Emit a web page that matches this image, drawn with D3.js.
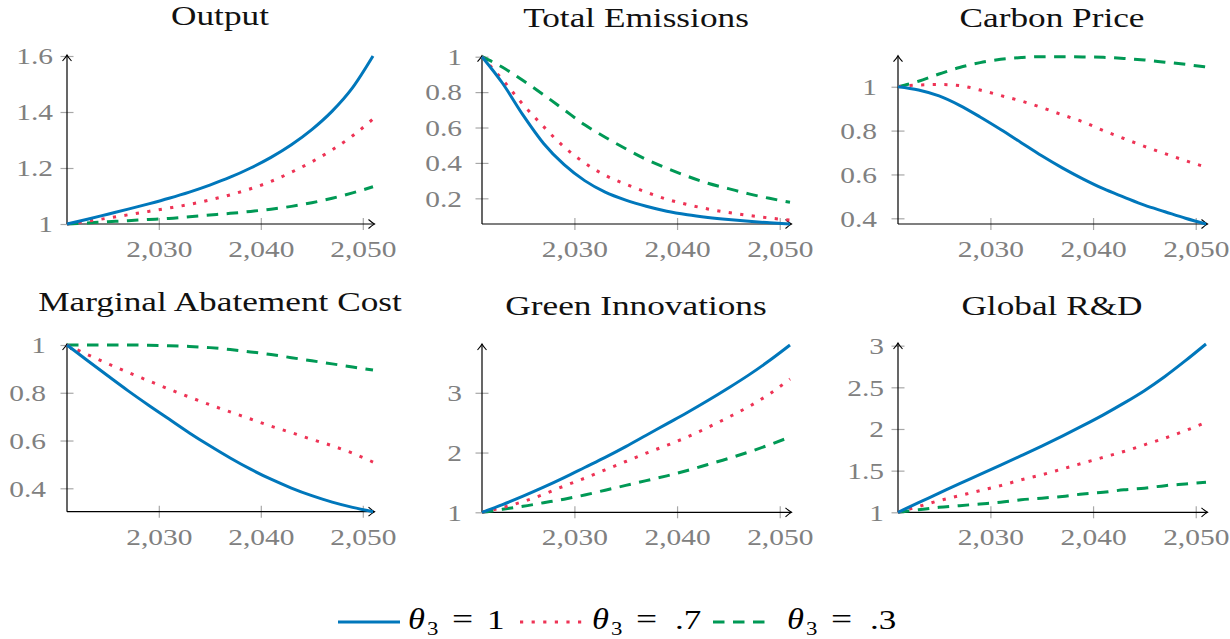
<!DOCTYPE html>
<html><head><meta charset="utf-8">
<script src="https://cdn.jsdelivr.net/npm/d3@7/dist/d3.min.js"></script>
<style>
body{margin:0;background:#fff}
svg{display:block}
text{font-family:"Liberation Serif","Times New Roman",serif}
</style>
</head><body>
<svg id="chart" width="1230" height="639"></svg>
<script>
// ---------------- DATA ----------------
const years = [2021,2023,2025,2027,2029,2031,2033,2035,2037,2039,2041,2043,2045,2047,2049,2051];
const xTicks = [2030,2040,2050];
const titles = ["Output","Total Emissions","Carbon Price","Marginal Abatement Cost","Green Innovations","Global R&D"];
const thetaValues = ["1", ".7", ".3"];

const output_t1  = [1.0,1.017,1.035,1.053,1.072,1.092,1.114,1.139,1.167,1.200,1.238,1.283,1.337,1.403,1.487,1.600];
const output_t07 = [1.0,1.010,1.021,1.033,1.045,1.057,1.070,1.086,1.104,1.126,1.152,1.185,1.222,1.265,1.315,1.375];
const output_t03 = [1.0,1.004,1.008,1.012,1.016,1.020,1.026,1.032,1.038,1.045,1.053,1.063,1.076,1.092,1.111,1.133];

const emis_t1  = [1.0,0.85,0.67,0.51,0.39,0.30,0.235,0.19,0.155,0.127,0.107,0.092,0.080,0.070,0.062,0.055];
const emis_t07 = [1.0,0.87,0.73,0.605,0.49,0.40,0.33,0.28,0.235,0.195,0.165,0.14,0.12,0.103,0.089,0.077];
const emis_t03 = [1.0,0.94,0.865,0.785,0.70,0.615,0.545,0.48,0.42,0.37,0.325,0.285,0.255,0.225,0.20,0.178];

const cprice_t1  = [1.0,0.985,0.958,0.915,0.862,0.805,0.745,0.685,0.63,0.58,0.535,0.497,0.46,0.43,0.40,0.374];
const cprice_t07 = [1.0,1.008,1.01,1.005,0.985,0.96,0.935,0.905,0.872,0.84,0.80,0.764,0.728,0.695,0.663,0.633];
const cprice_t03 = [1.0,1.025,1.058,1.088,1.11,1.125,1.133,1.137,1.137,1.136,1.134,1.129,1.122,1.112,1.102,1.09];

const mac_t1  = [1.0,0.935,0.871,0.808,0.748,0.69,0.632,0.578,0.527,0.48,0.438,0.401,0.369,0.342,0.32,0.302];
const mac_t07 = [1.0,0.96,0.922,0.885,0.85,0.815,0.782,0.75,0.72,0.69,0.66,0.633,0.605,0.578,0.547,0.51];
const mac_t03 = [1.0,1.0,1.0,1.0,0.999,0.997,0.994,0.989,0.981,0.971,0.96,0.947,0.934,0.921,0.908,0.895];

const innov_t1  = [1.0,1.13,1.27,1.42,1.58,1.75,1.92,2.10,2.29,2.48,2.67,2.87,3.08,3.30,3.54,3.80];
const innov_t07 = [1.0,1.08,1.18,1.30,1.44,1.57,1.71,1.85,1.99,2.12,2.26,2.42,2.59,2.77,2.98,3.23];
const innov_t03 = [1.0,1.05,1.10,1.16,1.22,1.29,1.37,1.45,1.53,1.61,1.70,1.80,1.90,2.01,2.13,2.26];

const rd_t1  = [1.0,1.115,1.23,1.345,1.455,1.567,1.68,1.795,1.915,2.04,2.17,2.31,2.46,2.63,2.82,3.02];
const rd_t07 = [1.0,1.07,1.14,1.20,1.26,1.32,1.39,1.45,1.52,1.59,1.66,1.73,1.81,1.89,1.98,2.08];
const rd_t03 = [1.0,1.03,1.06,1.08,1.10,1.12,1.15,1.17,1.19,1.22,1.24,1.27,1.29,1.32,1.34,1.36];

const yTicks_output = [1,1.2,1.4,1.6];
const yTicks_emis   = [0.2,0.4,0.6,0.8,1];
const yTicks_cprice = [0.4,0.6,0.8,1];
const yTicks_mac    = [0.4,0.6,0.8,1];
const yTicks_innov  = [1,2,3];
const yTicks_rd     = [1,1.5,2,2.5,3];

// ---------------- LAYOUT / STYLE ----------------
const panelSeries = [
  [output_t1, output_t07, output_t03],
  [emis_t1, emis_t07, emis_t03],
  [cprice_t1, cprice_t07, cprice_t03],
  [mac_t1, mac_t07, mac_t03],
  [innov_t1, innov_t07, innov_t03],
  [rd_t1, rd_t07, rd_t03]
];
const panelTicks = [yTicks_output, yTicks_emis, yTicks_cprice, yTicks_mac, yTicks_innov, yTicks_rd];

const layout = [
  {x0:67,  x1:373,  yB:224,   yT:56,   gap:14, titleY:25},
  {x0:482, x1:790,  yB:224,   yT:56.7, gap:20, titleY:27},
  {x0:898, x1:1206, yB:224,   yT:56.7, gap:21, titleY:27},
  {x0:67,  x1:373,  yB:511.7, yT:345,  gap:21, titleY:311},
  {x0:482, x1:790,  yB:512.3, yT:345,  gap:20, titleY:315},
  {x0:898, x1:1206, yB:512.3, yT:344,  gap:14, titleY:315}
];

const styles = [
  {color:"#0077BB", dash:null},
  {color:"#EE3355", dash:"3.2 8.4"},
  {color:"#009955", dash:"11.5 8.5"}
];
const lineW = 3;
const tickColor = "#a8a8a8";
const labelColor = "#808080";
const SX = 1.28;      // horizontal stretch of lettering
const tickFont = 23, titleFont = 28;

const svg = d3.select("#chart");

function arrowPath(tipX, tipY, dir){
  if(dir==='right'){
    return `M${tipX-6},${tipY-4.5} Q${tipX-2},${tipY-1} ${tipX},${tipY} Q${tipX-2},${tipY+1} ${tipX-6},${tipY+4.5}`;
  }
  return `M${tipX-4.5},${tipY+6} Q${tipX-1},${tipY+2} ${tipX},${tipY} Q${tipX+1},${tipY+2} ${tipX+4.5},${tipY+6}`;
}

function stretchedText(parent, x, y, str, size, anchor, opts={}){
  const t = parent.append("text")
    .attr("transform", `translate(${x},${y}) scale(${opts.sx||SX},1)`)
    .attr("text-anchor", anchor).attr("font-size", size)
    .attr("fill", opts.fill || "#000").text(str);
  if(opts.italic) t.attr("font-style","italic");
  return t;
}

panelSeries.forEach((series, i) => {
  const L = layout[i];
  const allVals = series.flat();
  const x = d3.scaleLinear().domain([years[0], years[years.length-1]]).range([L.x0, L.x1]);
  const y = d3.scaleLinear().domain(d3.extent(allVals)).range([L.yB, L.yT]);
  const g = svg.append("g");

  // title
  stretchedText(g, (L.x0+L.x1)/2, L.titleY, titles[i], titleFont, "middle", {fill:"#111", sx:1.26});

  // x axis
  const xAxis = d3.axisBottom(x).tickValues(xTicks).tickSize(0).tickFormat(d3.format(","));
  const gx = g.append("g").attr("transform", `translate(0,${L.yB})`).call(xAxis);
  gx.select(".domain").remove();
  gx.selectAll(".tick text")
    .attr("font-family","Liberation Serif").attr("font-size",tickFont)
    .attr("fill",labelColor).attr("x",0).attr("y",0).attr("dy",0)
    .attr("transform", `translate(0,33) scale(${SX},1)`);
  gx.selectAll(".tick").append("line").attr("y1",-6).attr("y2",6)
    .attr("stroke",tickColor).attr("stroke-width",1.2);

  // y axis
  const yAxis = d3.axisLeft(y).tickValues(panelTicks[i]).tickSize(0).tickFormat(d3.format("~g"));
  const gy = g.append("g").attr("transform", `translate(${L.x0},0)`).call(yAxis);
  gy.select(".domain").remove();
  gy.selectAll(".tick text")
    .attr("font-family","Liberation Serif").attr("font-size",tickFont)
    .attr("fill",labelColor).attr("x",0).attr("y",0).attr("dy","0.34em")
    .attr("transform", `translate(${-L.gap},0) scale(${SX},1)`);
  gy.selectAll(".tick").append("line").attr("x1",-6.5).attr("x2",6.5)
    .attr("stroke",tickColor).attr("stroke-width",1.2);

  // axis lines with arrows
  const xEnd = L.x1 + 1.5, yEnd = L.yT - 1;
  g.append("line").attr("x1",L.x0).attr("x2",xEnd).attr("y1",L.yB).attr("y2",L.yB)
    .attr("stroke","#000").attr("stroke-width",1.2);
  g.append("line").attr("x1",L.x0).attr("x2",L.x0).attr("y1",L.yB).attr("y2",yEnd)
    .attr("stroke","#000").attr("stroke-width",1.2);
  g.append("path").attr("d", arrowPath(xEnd, L.yB, 'right')).attr("fill","none").attr("stroke","#000").attr("stroke-width",1.1);
  g.append("path").attr("d", arrowPath(L.x0, yEnd, 'up')).attr("fill","none").attr("stroke","#000").attr("stroke-width",1.1);

  // series lines
  const line = d3.line().x((d,k)=>x(years[k])).y(d=>y(d)).curve(d3.curveMonotoneX);
  [2,1,0].forEach(s => {
    const p = g.append("path").datum(series[s]).attr("d", line)
      .attr("fill","none").attr("stroke", styles[s].color).attr("stroke-width", lineW)
      .attr("stroke-linecap","butt").attr("stroke-linejoin","round");
    if(styles[s].dash) p.attr("stroke-dasharray", styles[s].dash);
  });
});

// ---------------- LEGEND ----------------
const legendPos = [
  {lx0:338, lx1:400, tx:408},
  {lx0:520, lx1:583, tx:592},
  {lx0:713, lx1:768, tx:787}
];
const legY = 622;
const lg = svg.append("g");
thetaValues.forEach((v, i) => {
  const P = legendPos[i];
  const ln = lg.append("line").attr("x1",P.lx0).attr("x2",P.lx1).attr("y1",legY).attr("y2",legY)
    .attr("stroke",styles[i].color).attr("stroke-width",lineW);
  if(styles[i].dash) ln.attr("stroke-dasharray", styles[i].dash);
  stretchedText(lg, P.tx, 629, "θ", 30, "start", {italic:true, sx:1.15});
  stretchedText(lg, P.tx+19, 635, "3", 19, "start", {sx:1.2});
  stretchedText(lg, P.tx+44, 629, "=", 30, "start", {sx:1.25});
  stretchedText(lg, P.tx+(v.length>1?83:79), 629, v, 27, "start", {sx:1.3});
});
</script>
</body></html>
